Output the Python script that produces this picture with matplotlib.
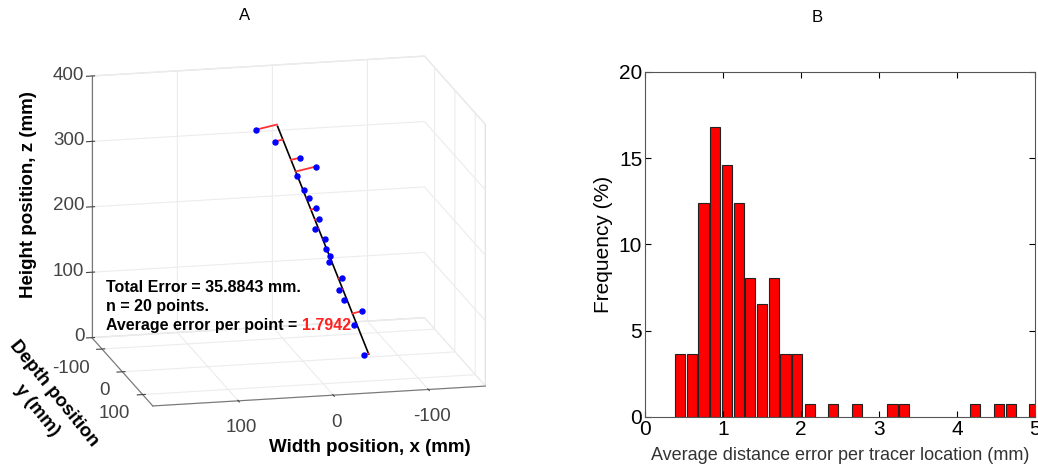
import numpy as np
import matplotlib.pyplot as plt

plt.rcParams['font.family'] = ['Liberation Sans', 'DejaVu Sans']
plt.rcParams['axes.unicode_minus'] = False

# ---- panel A: tracer positions (mm) ----
point_x = [49.0, 29.8, 3.4, -13.4, 5.8, -0.8, -6.1, -13.4, -16.6, -12.4,
           -23.7, -24.0, -28.2, -27.9, -41.6, -37.7, -42.9, -62.7, -53.5, -64.0]
point_y = [0, 0, 0, 0, 0, 0, 0, 0, 0, 0, 0, 0, 0, 0, 0, 0, 0, 0, 0, 0]
point_z = [358, 338, 311, 296, 284, 262, 249, 232, 216, 200,
           185, 169, 158, 149, 124, 105, 90, 71, 51, 4]
# fitted line end points
line_x = [26.6, -69.3]
line_y = [0, 0]
line_z = [361, 4.5]

total_error = '35.8843'
n_points = 20
avg_error = '1.7942'

# ---- panel B: histogram of average distance error ----
bin_centers = [0.45, 0.60, 0.75, 0.90, 1.05, 1.20, 1.35, 1.50, 1.65, 1.80,
               1.95, 2.11, 2.41, 2.72, 3.17, 3.32, 4.23, 4.53, 4.69, 4.99]
freq_pct = [3.65, 3.65, 12.41, 16.79, 14.60, 12.41, 8.03, 6.57, 8.03, 3.65,
            3.65, 0.73, 0.73, 0.73, 0.73, 0.73, 0.73, 0.73, 0.73, 0.73]

fig = plt.figure(figsize=(10.38, 4.73), dpi=100)

# ---------------- A ----------------
ax = fig.add_axes([0.0125, 0.0494, 0.52, 0.9], projection='3d')
ax.view_init(elev=15, azim=77)
ax.set_proj_type('ortho')
ax.set_box_aspect((1.26, 1.0, 1.0), zoom=1.17)

ax.plot(line_x, line_y, line_z, color='black', lw=1.2)
# error segments: each point to its nearest point on the line
p0 = np.array([line_x[0], line_y[0], line_z[0]])
d = np.array([line_x[1], line_y[1], line_z[1]]) - p0
for px, py, pz in zip(point_x, point_y, point_z):
    p = np.array([px, py, pz])
    t = np.dot(p - p0, d) / np.dot(d, d)
    f = p0 + t * d
    ax.plot([px, f[0]], [py, f[1]], [pz, f[2]], color='#ff3333', lw=1.3)
ax.scatter(point_x, point_y, point_z, color='#0000ff', s=13, depthshade=False)

ax.set_xlim(-160, 190)
ax.set_ylim(-150, 150)
ax.set_zlim(0, 400)
ax.set_xticks([-100, 0, 100])
ax.set_yticks([-100, 0, 100])
ax.set_zticks([0, 100, 200, 300, 400])
for a in (ax.xaxis, ax.yaxis, ax.zaxis):
    a.set_pane_color((1, 1, 1, 1))
    a.pane.set_edgecolor('#e4e4e4')
    a._axinfo['grid']['color'] = '#ececec'
    a._axinfo['grid']['linewidth'] = 0.8
    a.line.set_color('#777777')
ax.tick_params(labelsize=13.5, colors='#444444')
ax.xaxis.set_tick_params(pad=1)
ax.yaxis.set_tick_params(pad=-2)
ax.zaxis.set_tick_params(pad=-5)
plt.setp(ax.get_yticklabels(), ha='right', va='top')
plt.setp(ax.get_zticklabels(), ha='right', va='center')

fig.text(0.027, 0.588, 'Height position, z (mm)', rotation=90, ha='center', va='center',
         fontsize=13.5, fontweight='bold')
fig.text(0.356, 0.053, 'Width position, x (mm)', ha='center', va='center',
         fontsize=13.5, fontweight='bold')
fig.text(0.0515, 0.169, 'Depth position', rotation=-51, ha='center', va='center',
         fontsize=13.5, fontweight='bold')
fig.text(0.0352, 0.133, 'y (mm)', rotation=-51, ha='center', va='center',
         fontsize=13.5, fontweight='bold')

tx = 0.102
ys = [1 - 287 / 473, 1 - 306 / 473, 1 - 325 / 473]
fig.text(tx, ys[0], 'Total Error = %s mm.' % total_error, fontsize=11.5,
         fontweight='bold', va='center')
fig.text(tx, ys[1], 'n = %d points.' % n_points, fontsize=11.5, fontweight='bold', va='center')
t3 = fig.text(tx, ys[2], 'Average error per point = ', fontsize=11.5,
              fontweight='bold', va='center')
fig.canvas.draw()
bb = t3.get_window_extent().transformed(fig.transFigure.inverted())
fig.text(bb.x1, ys[2], avg_error, fontsize=11.5, fontweight='bold', color='#ff2020', va='center')

fig.text(0.236, 0.968, 'A', ha='center', va='center', fontsize=12)

# ---------------- B ----------------
bx = fig.add_axes([0.6214, 0.1184, 0.376, 0.7294])
bx.bar(bin_centers, freq_pct, width=0.13, color='#ff0000', edgecolor='#222222', lw=0.8)
bx.set_xlim(0, 5)
bx.set_ylim(0, 20)
bx.set_xticks([0, 1, 2, 3, 4, 5])
bx.set_yticks([0, 5, 10, 15, 20])
bx.tick_params(direction='in', top=True, right=True, labelsize=15, length=4, pad=2)
for s in bx.spines.values():
    s.set_color('#555555')
bx.set_ylabel('Frequency (%)', fontsize=15, labelpad=4)
bx.set_xlabel('Average distance error per tracer location (mm)', fontsize=13,
              color='#333333', labelpad=6)
fig.text(0.787, 0.964, 'B', ha='center', va='center', fontsize=12)

fig.savefig('out.png', dpi=100)
